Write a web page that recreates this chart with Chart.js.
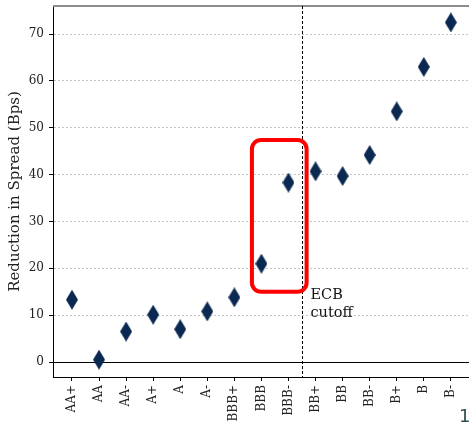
<!DOCTYPE html>
<html>
<head>
<meta charset="utf-8">
<script src="https://cdn.jsdelivr.net/npm/chart.js@4.4.0/dist/chart.umd.min.js"></script>
<style>
  html, body { margin: 0; padding: 0; background: #fff; overflow: hidden; }
  #wrap { position: relative; width: 469px; height: 425px; }
  #pg { position: absolute; left: 459px; top: 407px; font: 18px "DejaVu Sans"; line-height: 18px; color: #2f4f4f; }
</style>
</head>
<body>
<div id="wrap">
  <canvas id="c"></canvas>
  <div id="pg">1</div>
</div>
<script>
// ---- data ----
const categories = ["AA+","AA","AA-","A+","A","A-","BBB+","BBB","BBB-","BB+","BB","BB-","B+","B","B-"];
const reduction = [13.3, 0.5, 6.5, 10.1, 7.0, 10.8, 13.8, 21.0, 38.3, 40.7, 39.7, 44.2, 53.5, 63.0, 72.5];
const yTicks = [0, 10, 20, 30, 40, 50, 60, 70];
const cutoffPosition = 8.5;             // between BBB- and BB+
const highlightBox = { x0: 6.65, x1: 8.67, y0: 15.0, y1: 47.4 };
const cutoffLabel = ["ECB", "cutoff"];

const SERIF = '"DejaVu Serif", "Liberation Serif", serif';
const NAVY = '#0b2850';

// thin diamond marker (matplotlib 'd')
function diamond(w, h, color) {
  const cv = document.createElement('canvas');
  cv.width = w; cv.height = h;
  const g = cv.getContext('2d');
  g.fillStyle = color;
  g.beginPath();
  g.moveTo(w / 2, 0); g.lineTo(w, h / 2); g.lineTo(w / 2, h); g.lineTo(0, h / 2);
  g.closePath(); g.fill();
  return cv;
}
const marker = diamond(12, 20, NAVY);

const overlay = {
  id: 'overlay',
  beforeDatasetsDraw(chart) {
    const { ctx, chartArea: a, scales: { x, y } } = chart;
    ctx.save();
    // zero line
    const y0 = Math.round(y.getPixelForValue(0)) + 0.5;
    ctx.strokeStyle = '#000'; ctx.lineWidth = 1; ctx.setLineDash([]);
    ctx.beginPath(); ctx.moveTo(a.left, y0); ctx.lineTo(a.right, y0); ctx.stroke();
    // top spine (gray)
    ctx.strokeStyle = '#8c8c8c'; ctx.lineWidth = 2;
    ctx.beginPath(); ctx.moveTo(a.left, a.top); ctx.lineTo(a.right, a.top); ctx.stroke();
    // cutoff dashed line
    const xc = Math.round(x.getPixelForValue(cutoffPosition)) + 0.5;
    ctx.strokeStyle = '#000'; ctx.lineWidth = 1; ctx.setLineDash([3, 2]);
    ctx.beginPath(); ctx.moveTo(xc, a.top); ctx.lineTo(xc, a.bottom); ctx.stroke();
    ctx.setLineDash([]);
    // red rounded box
    const bx0 = x.getPixelForValue(highlightBox.x0), bx1 = x.getPixelForValue(highlightBox.x1);
    const by0 = y.getPixelForValue(highlightBox.y1), by1 = y.getPixelForValue(highlightBox.y0);
    ctx.strokeStyle = '#ff0000'; ctx.lineWidth = 4;
    ctx.beginPath();
    ctx.roundRect(bx0, by0, bx1 - bx0, by1 - by0, 9);
    ctx.stroke();
    // label
    ctx.fillStyle = '#111';
    ctx.font = '14.5px ' + SERIF;
    ctx.textAlign = 'left'; ctx.textBaseline = 'alphabetic';
    const tx = xc + 8;
    ctx.fillText(cutoffLabel[0], tx, y.getPixelForValue(13.5));
    ctx.fillText(cutoffLabel[1], tx, y.getPixelForValue(9.7));
    ctx.restore();
  }
};

new Chart(document.getElementById('c'), {
  type: 'scatter',
  data: {
    datasets: [{
      data: reduction.map((v, i) => ({ x: i, y: v })),
      pointStyle: marker,
      pointRadius: 10,
      pointHoverRadius: 10,
      backgroundColor: NAVY,
      borderColor: NAVY
    }]
  },
  options: {
    responsive: true,
    maintainAspectRatio: false,
    animation: false,
    events: [],
    layout: { autoPadding: false, padding: { top: 6, left: 0, right: 0, bottom: 0 } },
    plugins: { legend: { display: false }, tooltip: { enabled: false } },
    scales: {
      x: {
        type: 'linear',
        min: -0.7,
        max: 14.67,
        afterBuildTicks: s => { s.ticks = categories.map((c, i) => ({ value: i })); },
        afterFit: s => { s.height = 48; s.paddingLeft = 0; s.paddingRight = 0; s.paddingTop = 0; s.paddingBottom = 0; },
        ticks: {
          callback: v => categories[v],
          autoSkip: false,
          minRotation: 90, maxRotation: 90,
          padding: 4,
          color: '#222',
          font: { family: SERIF, size: 12 }
        },
        grid: { drawOnChartArea: false, drawTicks: true, tickLength: 4, tickColor: '#000', tickWidth: 1 },
        border: { display: true, color: '#000', width: 1 }
      },
      y: {
        min: -3.2,
        max: 76,
        afterBuildTicks: s => { s.ticks = yTicks.map(v => ({ value: v })); },
        afterFit: s => { s.width = 53; s.paddingTop = 0; s.paddingBottom = 0; s.paddingLeft = 0; s.paddingRight = 0; },
        ticks: {
          padding: 5,
          color: '#222',
          font: { family: SERIF, size: 12 }
        },
        grid: {
          color: c => (c.tick && c.tick.value === 0) ? 'rgba(0,0,0,0)' : '#c4c4c4',
          lineWidth: 1,
          drawTicks: true, tickLength: 4, tickColor: '#000', tickWidth: 1
        },
        border: { display: true, color: '#000', width: 1, dash: [2, 2] },
        title: {
          display: true,
          text: 'Reduction in Spread (Bps)',
          color: '#222',
          font: { family: SERIF, size: 15 },
          padding: { top: 6, bottom: 4 }
        }
      }
    }
  },
  plugins: [overlay]
});
</script>
</body>
</html>
